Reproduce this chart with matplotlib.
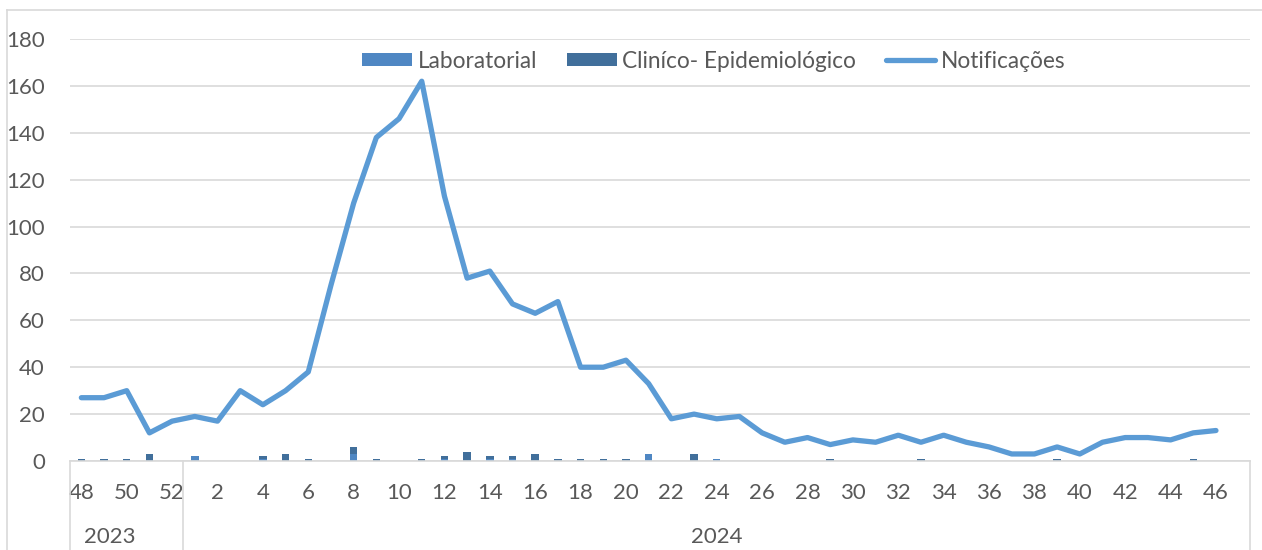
import numpy as np
import matplotlib
matplotlib.use("Agg")
import matplotlib.pyplot as plt
from matplotlib.lines import Line2D

plt.rcParams['font.family'] = ['Lato', 'DejaVu Sans']

# semanas epidemiológicas: 48-52 de 2023 e 1-47 de 2024
semanas = ['48', '49', '50', '51', '52',
           '1', '2', '3', '4', '5', '6', '7', '8', '9', '10',
           '11', '12', '13', '14', '15', '16', '17', '18', '19', '20',
           '21', '22', '23', '24', '25', '26', '27', '28', '29', '30',
           '31', '32', '33', '34', '35', '36', '37', '38', '39', '40',
           '41', '42', '43', '44', '45', '46', '47']
anos = ['2023', '2024']

notificacoes = [27, 27, 30, 12, 17,
                19, 17, 30, 24, 30, 38, 75, 110, 138, 146,
                162, 113, 78, 81, 67, 63, 68, 40, 40, 43,
                33, 18, 20, 18, 19, 12, 8, 10, 7, 9,
                8, 11, 8, 11, 8, 6, 3, 3, 6, 3,
                8, 10, 10, 9, 12, 13, np.nan]

laboratorial = [0, 0, 0, 0, 0,
                2, 0, 0, 1, 0, 0, 0, 3, 0, 0,
                0, 1, 0, 1, 1, 0, 0, 0, 0, 0,
                3, 0, 0, 1, 0, 0, 0, 0, 0, 0,
                0, 0, 0, 0, 0, 0, 0, 0, 0, 0,
                0, 0, 0, 0, 0, 0, 0]

clinico = [1, 1, 1, 3, 0,
           0, 0, 0, 1, 3, 1, 0, 3, 1, 0,
           1, 1, 4, 1, 1, 3, 1, 1, 1, 1,
           0, 0, 3, 0, 0, 0, 0, 0, 1, 0,
           0, 0, 1, 0, 0, 0, 0, 0, 1, 0,
           0, 0, 0, 0, 1, 0, 0]

cor_lab = '#4f87c3'
cor_cli = '#416f9b'
cor_linha = '#5b9bd5'
cor_texto = '#595959'
cor_grade = '#d9d9d9'
fs = 16

fig = plt.figure(figsize=(12.62, 5.5), dpi=100)
ax = fig.add_axes([70 / 1262, 89 / 550, 1180 / 1262, 422 / 550])

x = np.arange(len(semanas))
b1 = ax.bar(x, laboratorial, width=0.33, color=cor_lab, label='Laboratorial', zorder=2)
b2 = ax.bar(x, clinico, width=0.33, bottom=laboratorial, color=cor_cli,
            label='Cliníco- Epidemiológico', zorder=2)
l1, = ax.plot(x, notificacoes, color=cor_linha, lw=3.8, solid_capstyle='round',
              solid_joinstyle='round', label='Notificações', zorder=3)

ax.set_xlim(-0.5, len(semanas) - 0.5)
ax.set_ylim(0, 180)
ax.set_yticks(np.arange(0, 181, 20))
ax.yaxis.grid(True, color=cor_grade, lw=1.2)
ax.set_axisbelow(True)
for s in ax.spines.values():
    s.set_visible(False)

ax.set_xticks(x[::2])
ax.set_xticklabels(semanas[::2])
ax.tick_params(axis='x', length=0, pad=16, labelsize=fs, colors=cor_texto)
ax.tick_params(axis='y', length=0, pad=18, labelsize=fs, colors=cor_texto)

# tabela de categorias por ano
trans = ax.get_xaxis_transform()
ax.plot([-0.5, len(semanas) - 0.5], [0, 0], transform=trans, color=cor_grade,
        lw=1.2, clip_on=False)
for xv in [-0.5, 4.5, len(semanas) - 0.5]:
    ax.plot([xv, xv], [0, -0.3], transform=trans, color=cor_grade, lw=1.2,
            clip_on=False)
ax.text(1.25, -0.18, anos[0], transform=trans, ha='center', va='center',
        fontsize=fs, color=cor_texto)
ax.text(28.0, -0.18, anos[1], transform=trans, ha='center', va='center',
        fontsize=fs, color=cor_texto)

# borda externa
fig.add_artist(Line2D([7 / 1262, 7 / 1262], [0, 1 - 10 / 550], transform=fig.transFigure,
                      color=cor_grade, lw=1.2))
fig.add_artist(Line2D([7 / 1262, 1], [1 - 10 / 550, 1 - 10 / 550], transform=fig.transFigure,
                      color=cor_grade, lw=1.2))

leg = fig.legend([b1, b2, l1], ['Laboratorial', 'Cliníco- Epidemiológico', 'Notificações'],
                 loc='center', bbox_to_anchor=(714 / 1262, 1 - 61 / 550), ncol=3,
                 frameon=False, fontsize=16.3, handlelength=2.2, handleheight=0.55,
                 handletextpad=0.25, columnspacing=1.3)
for t in leg.get_texts():
    t.set_color(cor_texto)

fig.savefig('out.png', dpi=100)
